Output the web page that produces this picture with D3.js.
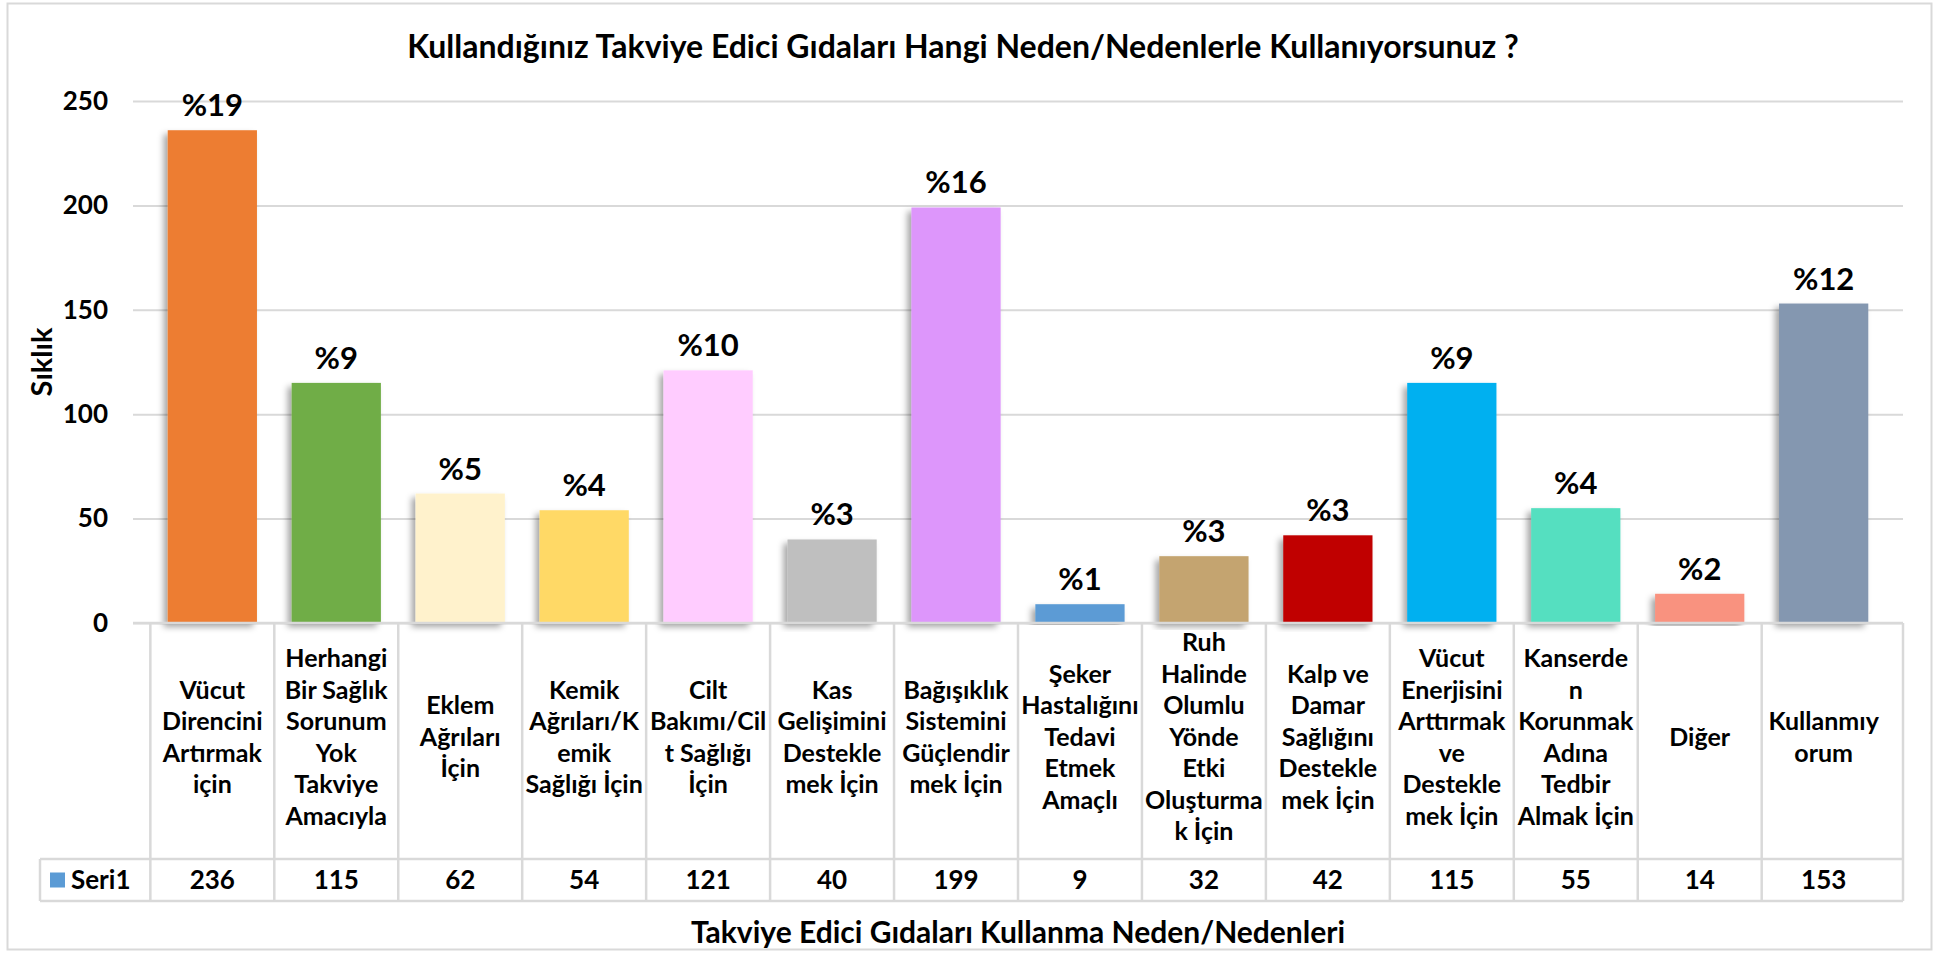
<!DOCTYPE html>
<html>
<head>
<meta charset="utf-8">
<script src="https://cdn.jsdelivr.net/npm/d3@7"></script>
<style>
  body { margin: 0; background: #fff; }
  svg text { font-family: Lato, "Open Sans", sans-serif; font-weight: bold; fill: #000; }
</style>
</head>
<body>
<div id="bar-takviye"></div>
<script>
// Takviye edici gida kullanma nedenleri - bar chart with data table

const categories = [
    "Vücut Direncini Artırmak için",
    "Herhangi Bir Sağlık Sorunum Yok Takviye Amacıyla",
    "Eklem Ağrıları İçin",
    "Kemik Ağrıları/Kemik Sağlığı İçin",
    "Cilt Bakımı/Cilt Sağlığı İçin",
    "Kas Gelişimini Desteklemek İçin",
    "Bağışıklık Sistemini Güçlendirmek İçin",
    "Şeker Hastalığını Tedavi Etmek Amaçlı",
    "Ruh Halinde Olumlu Yönde Etki Oluşturmak İçin",
    "Kalp ve Damar Sağlığını Desteklemek İçin",
    "Vücut Enerjisini Arttırmak ve Desteklemek İçin",
    "Kanserden Korunmak Adına Tedbir Almak İçin",
    "Diğer",
    "Kullanmıyorum"
];

// label lines as they wrap in the original table
const categoryLines = [
    ["Vücut", "Direncini", "Artırmak", "için"],
    ["Herhangi", "Bir Sağlık", "Sorunum", "Yok", "Takviye", "Amacıyla"],
    ["Eklem", "Ağrıları", "İçin"],
    ["Kemik", "Ağrıları/K", "emik", "Sağlığı İçin"],
    ["Cilt", "Bakımı/Cil", "t Sağlığı", "İçin"],
    ["Kas", "Gelişimini", "Destekle", "mek İçin"],
    ["Bağışıklık", "Sistemini", "Güçlendir", "mek İçin"],
    ["Şeker", "Hastalığını", "Tedavi", "Etmek", "Amaçlı"],
    ["Ruh", "Halinde", "Olumlu", "Yönde", "Etki", "Oluşturma", "k İçin"],
    ["Kalp ve", "Damar", "Sağlığını", "Destekle", "mek İçin"],
    ["Vücut", "Enerjisini", "Arttırmak", "ve", "Destekle", "mek İçin"],
    ["Kanserde", "n", "Korunmak", "Adına", "Tedbir", "Almak İçin"],
    ["Diğer"],
    ["Kullanmıy", "orum"]
];

const values = [236, 115, 62, 54, 121, 40, 199, 9, 32, 42, 115, 55, 14, 153];
const percents = ["%19", "%9", "%5", "%4", "%10", "%3", "%16", "%1", "%3", "%3", "%9", "%4", "%2", "%12"];
const colors = ["#ED7D31", "#70AD47", "#FFF2CC", "#FFD966", "#FFCCFF", "#BFBFBF", "#DD96FB",
    "#5B9BD5", "#C4A470", "#C00000", "#00B0F0", "#55DFC0", "#F9927F", "#8497B0"];
const yTicks = [0, 50, 100, 150, 200, 250];
const seriesName = "Seri1";

const chartTitle = "Kullandığınız Takviye Edici Gıdaları Hangi Neden/Nedenlerle Kullanıyorsunuz ?";
const xTitle = "Takviye Edici Gıdaları Kullanma Neden/Nedenleri";
const yTitle = "Sıklık";

(function() {
    const W = 1935, H = 953;
    const margin = {top: 101, right: 32, bottom: 330, left: 133},
        width = W - margin.left - margin.right,
        height = H - margin.top - margin.bottom;

    const svg = d3.select("#bar-takviye")
        .append("svg")
        .attr("width", W)
        .attr("height", H);

    // outer chart border
    svg.append("rect")
        .attr("x", 7.5).attr("y", 3.5)
        .attr("width", 1924).attr("height", 946)
        .attr("fill", "#fff")
        .attr("stroke", "#D9D9D9")
        .attr("stroke-width", 2);

    const defs = svg.append("defs");
    defs.append("filter")
        .attr("id", "barShadow")
        .attr("x", "-20%").attr("y", "-10%").attr("width", "140%").attr("height", "120%")
        .append("feDropShadow")
        .attr("dx", -4).attr("dy", 4)
        .attr("stdDeviation", 3)
        .attr("flood-color", "#000")
        .attr("flood-opacity", 0.35);

    const g = svg.append("g")
        .attr("transform", `translate(${margin.left},${margin.top})`);

    const x = d3.scaleBand()
        .domain(categories)
        .range([0, width])
        .padding(0.28);

    const y = d3.scaleLinear()
        .domain([0, 250])
        .range([height, 0]);

    // Y axis with gridlines
    const yAxis = g.append("g")
        .call(d3.axisLeft(y).tickValues(yTicks).tickSize(-width).tickPadding(25));
    yAxis.select(".domain").remove();
    yAxis.selectAll(".tick line")
        .attr("stroke", "#D9D9D9")
        .attr("stroke-width", 2);
    yAxis.selectAll(".tick text")
        .attr("font-size", 26)
        .attr("font-weight", "bold")
        .attr("font-family", null)
        .attr("fill", "#000");

    // Bars
    g.selectAll(".bar")
        .data(values)
        .enter()
        .append("rect")
        .attr("class", "bar")
        .attr("x", (d, i) => x(categories[i]))
        .attr("y", d => y(d))
        .attr("width", x.bandwidth())
        .attr("height", d => y(0) - y(d))
        .attr("fill", (d, i) => colors[i])
        .attr("filter", "url(#barShadow)");

    // Percent labels
    g.selectAll(".pct")
        .data(values)
        .enter()
        .append("text")
        .attr("class", "pct")
        .attr("x", (d, i) => x(categories[i]) + x.bandwidth() / 2)
        .attr("y", d => y(d) - 14)
        .attr("text-anchor", "middle")
        .attr("font-size", 31)
        .text((d, i) => percents[i]);

    // Data table
    const step = x.step();
    const colLeft = i => x(categories[i]) - step * x.paddingInner() / 2;
    const rowLabelBottom = height + 236;
    const rowValueBottom = height + 278;
    const legendLeft = 40 - margin.left;
    const lineColor = "#D9D9D9";

    const table = g.append("g");
    table.append("line")
        .attr("x1", 0).attr("x2", width)
        .attr("y1", height).attr("y2", height)
        .attr("stroke", lineColor).attr("stroke-width", 2.5);
    table.append("line")
        .attr("x1", legendLeft).attr("x2", width)
        .attr("y1", rowLabelBottom).attr("y2", rowLabelBottom)
        .attr("stroke", lineColor).attr("stroke-width", 2.5);
    table.append("line")
        .attr("x1", legendLeft).attr("x2", width)
        .attr("y1", rowValueBottom).attr("y2", rowValueBottom)
        .attr("stroke", lineColor).attr("stroke-width", 2.5);
    table.append("line")
        .attr("x1", legendLeft).attr("x2", legendLeft)
        .attr("y1", rowLabelBottom).attr("y2", rowValueBottom)
        .attr("stroke", lineColor).attr("stroke-width", 2.5);
    table.selectAll(".vline")
        .data(d3.range(categories.length + 1))
        .enter()
        .append("line")
        .attr("x1", i => i < categories.length ? colLeft(i) : width)
        .attr("x2", i => i < categories.length ? colLeft(i) : width)
        .attr("y1", height).attr("y2", rowValueBottom)
        .attr("stroke", lineColor).attr("stroke-width", 2.5);

    // category labels
    const lineH = 31.5;
    const labelMid = (height + rowLabelBottom) / 2 - 4;
    table.selectAll(".cat")
        .data(categoryLines)
        .enter()
        .append("text")
        .attr("class", "cat")
        .attr("text-anchor", "middle")
        .attr("font-size", 25)
        .each(function(lines, i) {
            const cx = x(categories[i]) + x.bandwidth() / 2;
            const y0 = labelMid - (lines.length - 1) * lineH / 2;
            d3.select(this).selectAll("tspan")
                .data(lines)
                .enter()
                .append("tspan")
                .attr("x", cx)
                .attr("y", (l, k) => y0 + k * lineH)
                .attr("dy", "0.35em")
                .text(l => l);
        });

    // values row
    table.selectAll(".val")
        .data(values)
        .enter()
        .append("text")
        .attr("class", "val")
        .attr("x", (d, i) => x(categories[i]) + x.bandwidth() / 2)
        .attr("y", (rowLabelBottom + rowValueBottom) / 2)
        .attr("dy", "0.35em")
        .attr("text-anchor", "middle")
        .attr("font-size", 26)
        .text(d => d);

    // legend key in the table
    table.append("rect")
        .attr("x", 50 - margin.left)
        .attr("y", (rowLabelBottom + rowValueBottom) / 2 - 7.5)
        .attr("width", 15).attr("height", 15)
        .attr("fill", "#5B9BD5");
    table.append("text")
        .attr("x", 71 - margin.left)
        .attr("y", (rowLabelBottom + rowValueBottom) / 2)
        .attr("dy", "0.35em")
        .attr("font-size", 26)
        .text(seriesName);

    // Titles
    svg.append("text")
        .attr("x", 963)
        .attr("y", 58)
        .attr("text-anchor", "middle")
        .attr("font-size", 32)
        .text(chartTitle);

    svg.append("text")
        .attr("x", margin.left + width / 2)
        .attr("y", 932)
        .attr("dy", "0.35em")
        .attr("text-anchor", "middle")
        .attr("font-size", 30)
        .text(xTitle);

    svg.append("text")
        .attr("transform", "rotate(-90)")
        .attr("x", -362)
        .attr("y", 42)
        .attr("dy", "0.35em")
        .attr("text-anchor", "middle")
        .attr("font-size", 29)
        .text(yTitle);
})();
</script>
</body>
</html>
